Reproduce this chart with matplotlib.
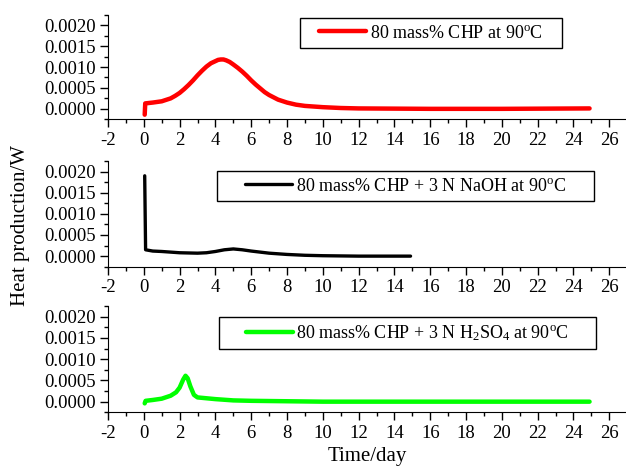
import numpy as np
import matplotlib.pyplot as plt
from matplotlib.ticker import MultipleLocator, FormatStrFormatter

plt.rcParams['font.family'] = ['Liberation Serif', 'DejaVu Serif']
plt.rcParams['mathtext.fontset'] = 'custom'
plt.rcParams['mathtext.rm'] = 'Liberation Serif'
plt.rcParams['mathtext.it'] = 'Liberation Serif:italic'
plt.rcParams['axes.unicode_minus'] = False

# 80 mass% CHP, no additive
t_chp = [0.05, 0.08, 0.5, 1.0, 1.5, 1.75, 2.0, 2.25, 2.5, 2.75, 3.0, 3.25, 3.5, 3.75,
         4.0, 4.15, 4.3, 4.45, 4.6, 4.8, 5.0, 5.25, 5.5, 5.75, 6.0, 6.25, 6.5, 6.75,
         7.0, 7.5, 8.0, 8.5, 9.0, 10.0, 11.0, 12.0, 14.0, 16.0, 20.0, 24.9]
q_chp = [-0.00014, 0.00013, 0.00015, 0.00018, 0.00025, 0.00031, 0.00038, 0.00047,
         0.00057, 0.00068, 0.00080, 0.00091, 0.00101, 0.00109, 0.00114, 0.00117,
         0.00118, 0.00118, 0.00116, 0.00112, 0.00106, 0.00098, 0.00089, 0.00079,
         0.00068, 0.00058, 0.00049, 0.00040, 0.00033, 0.00022, 0.00015, 0.00010,
         0.00007, 0.00004, 0.00002, 0.00001, 0.000005, 0.0, 0.0, 0.00001]

# with 3 N NaOH
t_naoh = [0.05, 0.1, 0.5, 1.0, 2.0, 3.0, 3.5, 4.0, 4.5, 5.0, 5.5, 6.0, 7.0, 8.0,
          9.0, 10.0, 12.0, 14.9]
q_naoh = [0.0019, 0.00015, 0.00012, 0.00011, 0.00008, 0.00007, 0.00008, 0.00011,
          0.00015, 0.00017, 0.00015, 0.00012, 0.00007, 0.00004, 0.00002, 0.00001,
          0.0, 0.0]

# with 3 N H2SO4
t_acid = [0.05, 0.1, 0.5, 1.0, 1.5, 1.8, 2.0, 2.2, 2.33, 2.45, 2.6, 2.8, 3.0, 3.5,
          4.0, 5.0, 6.0, 8.0, 10.0, 24.9]
q_acid = [-0.00004, 0.00002, 0.00004, 0.00007, 0.00014, 0.00022, 0.00033, 0.00052,
          0.00061, 0.00055, 0.00036, 0.00016, 0.00010, 0.00008, 0.00006, 0.00003,
          0.00002, 0.00001, 0.0, 0.0]

series = [
    (t_chp, q_chp, '#ff0000', 3.2, r'80 mass% CHP at 90$^{\rm o}$C'),
    (t_naoh, q_naoh, '#000000', 2.4, r'80 mass% CHP + 3 N NaOH at 90$^{\rm o}$C'),
    (t_acid, q_acid, '#00ff00', 3.2, r'80 mass% CHP + 3 N H$_2$SO$_4$ at 90$^{\rm o}$C'),
]

W, H = 626, 466
fig = plt.figure(figsize=(W / 100, H / 100), dpi=100)

# axes boxes in pixels: top, bottom
panels = [(14.7, 119.3), (161, 266.7), (306, 412.3)]
left_px = 108
# legend boxes in pixels: x0, x1, y0, y1
legboxes = [(300, 562, 15, 48), (217, 594, 168, 201), (219, 596, 313, 349)]

for (t, q, col, lw, lab), (top, bot), (lx0, lx1, ly0, ly1) in zip(series, panels, legboxes):
    ax = fig.add_axes([left_px / W, 1 - bot / H, 0.999 - left_px / W, (bot - top) / H])
    ax.plot(t, q, color=col, lw=lw, label=lab, solid_capstyle='round',
            solid_joinstyle='round')
    ax.set_xlim(-2, 26.9)
    ax.set_ylim(-0.00025, 0.00225)
    ax.spines['top'].set_visible(False)
    ax.spines['right'].set_visible(False)
    ax.xaxis.set_major_locator(MultipleLocator(2))
    ax.xaxis.set_minor_locator(MultipleLocator(1))
    ax.yaxis.set_major_locator(MultipleLocator(0.0005))
    ax.yaxis.set_minor_locator(MultipleLocator(0.00025))
    ax.yaxis.set_major_formatter(FormatStrFormatter('%.4f'))
    ax.tick_params(which='major', direction='out', length=6, width=1, labelsize=13.5, pad=3)
    ax.tick_params(which='minor', direction='out', length=3, width=1)
    leg = ax.legend(loc='lower left', mode='expand', fontsize=13,
                    bbox_to_anchor=(lx0 / W, 1 - ly1 / H, (lx1 - lx0) / W, (ly1 - ly0) / H),
                    bbox_transform=fig.transFigure, borderaxespad=0, borderpad=0.35,
                    handlelength=2.6, handletextpad=0.2, fancybox=False,
                    edgecolor='black', framealpha=1)
    leg.get_frame().set_linewidth(1.0)
    leg._legend_handle_box.mode = 'fixed'

fig.text((left_px + W) / 2 / W, 1 - 456 / H, 'Time/day', ha='center', va='center', fontsize=15)
fig.text(21 / W, 1 - 225 / H, 'Heat production/W', ha='center', va='center',
         rotation=90, fontsize=15)

fig.savefig('out.png', dpi=100)
